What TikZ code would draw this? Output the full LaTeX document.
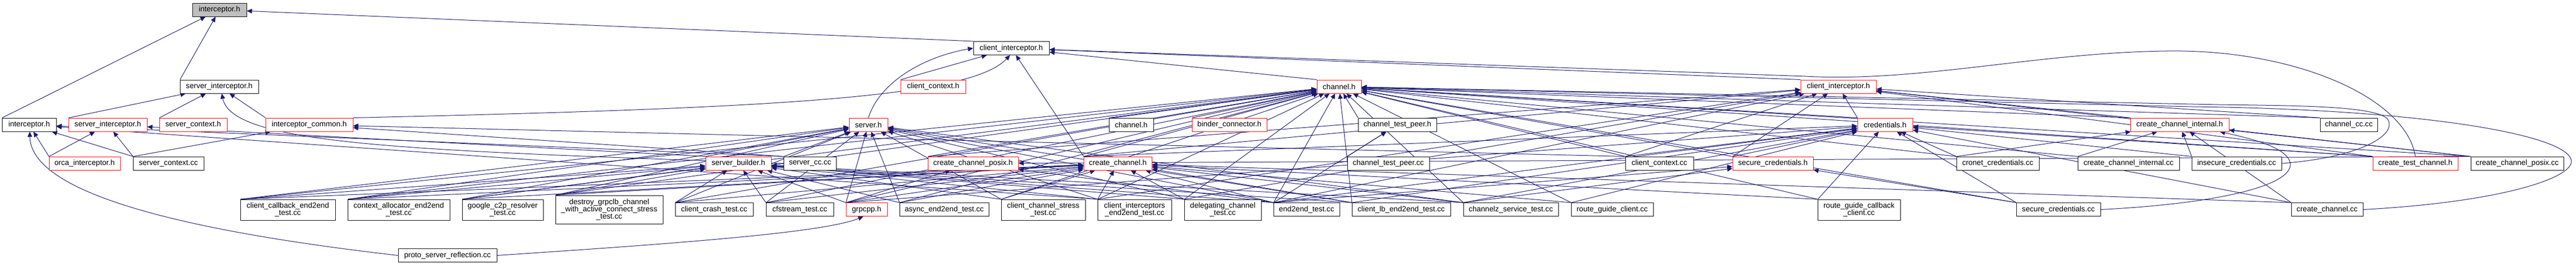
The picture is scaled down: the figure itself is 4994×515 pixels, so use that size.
\documentclass[tikz,border=0pt]{standalone}
\usepackage{fontspec}
\setmainfont{Liberation Sans}
\usetikzlibrary{arrows.meta,calc}
\pgfdeclarelayer{bg}
\pgfsetlayers{bg,main}
\definecolor{edgeblue}{HTML}{191970}
\definecolor{rootgray}{HTML}{BFBFBF}
\definecolor{nodered}{HTML}{FF0000}
\tikzset{
 box/.style={draw=black, fill=white, line width=1pt, inner sep=0pt, minimum height=26pt, align=center, font=\fontsize{14.6pt}{14.3pt}\selectfont},
 rbox/.style={box, draw=nodered},
 tall/.style={minimum height=40pt},
 taller/.style={minimum height=55pt},
 edge/.style={draw=edgeblue, line width=1pt, -{Triangle[length=10pt,width=9pt]}}
}
\newcommand{\ed}[2]{%
  \draw[edge] let \p1=(#1.north west), \p2=(#1.north east), \p3=(#2.center), \p4=(#1.center),
    \n1={0.5+0.42*(\x3-\x4)/(abs(\x3-\x4)+250)} in
    ($(\p1)!\n1!(\p2)$) -- (#2);}
\begin{document}
\begin{tikzpicture}[x=1pt,y=-1pt]
\useasboundingbox (0,0) rectangle (4994,515);
% row 0-1
\node[box,fill=rootgray,minimum width=105pt] (T) at (425.5,19) {interceptor.h};
\node[box,minimum width=147pt] (CIB) at (1960.5,93.5) {client\_interceptor.h};
% row 2
\node[box,minimum width=152pt] (SIB) at (425,168) {server\_interceptor.h};
\node[rbox,minimum width=126pt] (CCH) at (1809,168) {client\_context.h};
\node[rbox,minimum width=86pt] (CHR) at (2596,168) {channel.h};
\node[rbox,minimum width=146pt] (CIR) at (3564,168) {client\_interceptor.h};
% row 3
\node[box,minimum width=105pt] (IL) at (56.5,242) {interceptor.h};
\node[rbox,minimum width=152pt] (SIR) at (209,242) {server\_interceptor.h};
\node[rbox,minimum width=131pt] (SCH) at (374.5,242) {server\_context.h};
\node[rbox,minimum width=169pt] (ICH) at (599.5,242) {interceptor\_common.h};
\node[rbox,minimum width=75pt] (SRV) at (1683.5,242) {server.h};
\node[box,minimum width=86pt] (CHB) at (2193,242) {channel.h};
\node[rbox,minimum width=145pt] (BIN) at (2383.5,242) {binder\_connector.h};
\node[box,minimum width=152pt] (CTPH) at (2709,242) {channel\_test\_peer.h};
\node[rbox,minimum width=107pt] (CRED) at (3654.5,242) {credentials.h};
\node[rbox,minimum width=191pt] (CCIH) at (4225.5,242) {create\_channel\_internal.h};
\node[box,minimum width=111pt] (CHCC) at (4553.5,242) {channel\_cc.cc};
% row 4
\node[rbox,minimum width=138pt] (ORCA) at (164,317) {orca\_interceptor.h};
\node[box,minimum width=137pt] (SCCC) at (326.5,317) {server\_context.cc};
\node[rbox,minimum width=127pt] (SB) at (1431.5,317) {server\_builder.h};
\node[box,minimum width=102pt] (SCC) at (1570.5,317) {server\_cc.cc};
\node[rbox,minimum width=175pt] (CCPH) at (1886.5,317) {create\_channel\_posix.h};
\node[rbox,minimum width=132pt] (CCHH) at (2167,317) {create\_channel.h};
\node[box,minimum width=159pt] (CTPC) at (2691.5,317) {channel\_test\_peer.cc};
\node[box,minimum width=132pt] (CCTX) at (3217,317) {client\_context.cc};
\node[rbox,minimum width=156pt] (SECH) at (3437,317) {secure\_credentials.h};
\node[box,minimum width=160pt] (CRON) at (3873,317) {cronet\_credentials.cc};
\node[box,minimum width=197pt] (CCIC) at (4126.5,317) {create\_channel\_internal.cc};
\node[box,minimum width=174pt] (INS) at (4336,317) {insecure\_credentials.cc};
\node[rbox,minimum width=165pt] (CTCH) at (4682.5,317) {create\_test\_channel.h};
\node[box,minimum width=180pt] (CCPC) at (4880,317) {create\_channel\_posix.cc};
% row 5
\node[box,tall,minimum width=184pt] (CB) at (558,407) {client\_callback\_end2end\\\_test.cc};
\node[box,tall,minimum width=198pt] (CA) at (773,407) {context\_allocator\_end2end\\\_test.cc};
\node[box,tall,minimum width=157pt] (GC) at (974.5,407) {google\_c2p\_resolver\\\_test.cc};
\node[box,taller,minimum width=208pt] (DG) at (1181,406.5) {destroy\_grpclb\_channel\\\_with\_active\_connect\_stress\\\_test.cc};
\node[box,minimum width=151pt] (CR) at (1384.5,406.5) {client\_crash\_test.cc};
\node[box,minimum width=131pt] (CF) at (1550.5,406.5) {cfstream\_test.cc};
\node[rbox,minimum width=80pt] (GRPCPP) at (1680,406.5) {grpcpp.h};
\node[box,minimum width=173pt] (AE) at (1830.5,406.5) {async\_end2end\_test.cc};
\node[box,tall,minimum width=163pt] (CCS) at (2022.5,407) {client\_channel\_stress\\\_test.cc};
\node[box,tall,minimum width=143pt] (CIE) at (2199.5,407) {client\_interceptors\\\_end2end\_test.cc};
\node[box,tall,minimum width=149pt] (DC) at (2370.5,407) {delegating\_channel\\\_test.cc};
\node[box,minimum width=128pt] (E2E) at (2533,406.5) {end2end\_test.cc};
\node[box,minimum width=191pt] (CLB) at (2716.5,406.5) {client\_lb\_end2end\_test.cc};
\node[box,minimum width=184pt] (CZ) at (2929,406.5) {channelz\_service\_test.cc};
\node[box,minimum width=159pt] (RGC) at (3125.5,406.5) {route\_guide\_client.cc};
\node[box,tall,minimum width=160pt] (RGCB) at (3604,407) {route\_guide\_callback\\\_client.cc};
\node[box,minimum width=163pt] (SECC) at (3990.5,406.5) {secure\_credentials.cc};
\node[box,minimum width=139pt] (CCC) at (4511.5,406.5) {create\_channel.cc};
% row 6
\node[box,minimum width=191pt] (PSR) at (867.5,495.5) {proto\_server\_reflection.cc};

\begin{pgfonlayer}{bg}
% top
\ed{IL}{T} \ed{SIB}{T} \ed{CIB}{T}
% server_interceptor.h (codegen)
\ed{SIR}{SIB} \ed{SCH}{SIB} \ed{ICH}{SIB}
\draw[edge] (SCC.west) .. controls (800,292) and (450,282) .. (SIB.-70);
% client_interceptor.h (codegen)
\draw[edge] (ICH.north east) .. controls (1500,210) and (1880,190) .. (CIB.-100);
\ed{CCH}{CIB}
\draw[edge] (SRV.north) .. controls (1705,160) and (1790,110) .. (CIB.west);
\ed{CCHH}{CIB} \ed{CHR}{CIB} \ed{CIR}{CIB}
\draw[edge] (CTCH.north) .. controls (4665,190) and (4450,95) .. (4200,99) .. controls (3950,102) and (3720,160) .. (3500,148) -- (CIB);
% interceptor.h (support)
\ed{ORCA}{IL} \ed{SCCC}{IL} \ed{SCC}{IL} \ed{CIE}{IL}
\draw[edge] (PSR.west) .. controls (330,445) and (60,370) .. (IL.-85);
\draw[edge] (PSR.east) .. controls (1350,470) and (1600,450) .. (GRPCPP.-115);
% server_interceptor.h (support)
\ed{ORCA}{SIR} \ed{SCCC}{SIR} \ed{SB}{SIR}
% interceptor_common.h
\ed{SCCC}{ICH} \ed{SCC}{ICH} \ed{CCTX}{ICH}
% server.h
\ed{SB}{SRV} \ed{SCC}{SRV} \ed{GRPCPP}{SRV} \ed{AE}{SRV} \ed{CB}{SRV} \ed{CA}{SRV}
\ed{GC}{SRV} \ed{DG}{SRV} \ed{CR}{SRV} \ed{CF}{SRV} \ed{CCS}{SRV} \ed{CIE}{SRV}
\ed{DC}{SRV} \ed{E2E}{SRV} \ed{CLB}{SRV} \ed{CZ}{SRV}
% server_builder.h
\ed{CB}{SB} \ed{CA}{SB} \ed{GC}{SB} \ed{DG}{SB} \ed{CR}{SB} \ed{CF}{SB} \ed{GRPCPP}{SB}
\ed{AE}{SB} \ed{CCS}{SB} \ed{CIE}{SB} \ed{DC}{SB} \ed{E2E}{SB} \ed{CLB}{SB} \ed{CZ}{SB}
% channel.h
\ed{CHB}{CHR} \ed{BIN}{CHR} \ed{CTPH}{CHR} \ed{CCHH}{CHR} \ed{CCPH}{CHR} \ed{GRPCPP}{CHR}
\ed{CRED}{CHR} \ed{SECH}{CHR} \ed{CCTX}{CHR} \ed{CHCC}{CHR} \ed{CCIH}{CHR} \ed{CCIC}{CHR}
\ed{CTCH}{CHR} \ed{CCPC}{CHR} \ed{CRON}{CHR} \ed{SECC}{CHR}
\ed{CB}{CHR} \ed{CA}{CHR} \ed{GC}{CHR} \ed{DG}{CHR} \ed{CR}{CHR} \ed{CF}{CHR} \ed{AE}{CHR}
\ed{CCS}{CHR} \ed{CIE}{CHR} \ed{DC}{CHR} \ed{E2E}{CHR} \ed{CLB}{CHR} \ed{CZ}{CHR} \ed{RGC}{CHR} \ed{RGCB}{CHR}
\draw[edge] (CCC.east) .. controls (4850,392) and (4988,345) .. (4985,312) .. controls (4980,262) and (4700,212) .. (4250,207) -- (CHR);
\draw[edge] (INS.east) .. controls (4580,305) and (4650,260) .. (4628,230) .. controls (4600,205) and (4450,205) .. (4300,203) -- (CHR);
% client_interceptor.h (support)
\ed{CCHH}{CIR} \ed{CCPH}{CIR} \ed{CIE}{CIR} \ed{E2E}{CIR} \ed{SECH}{CIR} \ed{CRED}{CIR}
\ed{CCIH}{CIR} \ed{CTCH}{CIR} \ed{CCPC}{CIR} \ed{CHCC}{CIR} \ed{CCTX}{CIR} \ed{DC}{CIR}
% credentials.h
\ed{SECH}{CRED} \ed{CRON}{CRED} \ed{INS}{CRED} \ed{SECC}{CRED} \ed{CCHH}{CRED} \ed{CTCH}{CRED}
\ed{CCC}{CRED} \ed{RGCB}{CRED} \ed{RGC}{CRED} \ed{CZ}{CRED} \ed{E2E}{CRED} \ed{GRPCPP}{CRED}
\ed{CCTX}{CRED} \ed{CLB}{CRED}
% secure_credentials.h
\ed{SECC}{SECH} \ed{CZ}{SECH} \ed{E2E}{SECH}
% create_channel_internal.h
\ed{CRON}{CCIH} \ed{CCIC}{CCIH} \ed{INS}{CCIH} \ed{CCC}{CCIH} \ed{CCPC}{CCIH}
\draw[edge] (SECC.east) .. controls (4300,395) and (4445,360) .. (4440,317) .. controls (4435,285) and (4360,268) .. ([xshift=-18pt]CCIH.south east);
% create_channel.h
\ed{CB}{CCHH} \ed{CA}{CCHH} \ed{GC}{CCHH} \ed{DG}{CCHH} \ed{CR}{CCHH} \ed{CF}{CCHH}
\ed{GRPCPP}{CCHH} \ed{AE}{CCHH} \ed{CCS}{CCHH} \ed{CIE}{CCHH} \ed{DC}{CCHH} \ed{E2E}{CCHH}
\ed{CLB}{CCHH} \ed{CZ}{CCHH} \ed{RGC}{CCHH} \ed{RGCB}{CCHH} \ed{CCC}{CCHH}
% create_channel_posix.h
\ed{GRPCPP}{CCPH} \ed{CCPC}{CCPH} \ed{E2E}{CCPH}
% channel_test_peer.h
\ed{CTPC}{CTPH} \ed{E2E}{CTPH}
\end{pgfonlayer}
\end{tikzpicture}
\end{document}
